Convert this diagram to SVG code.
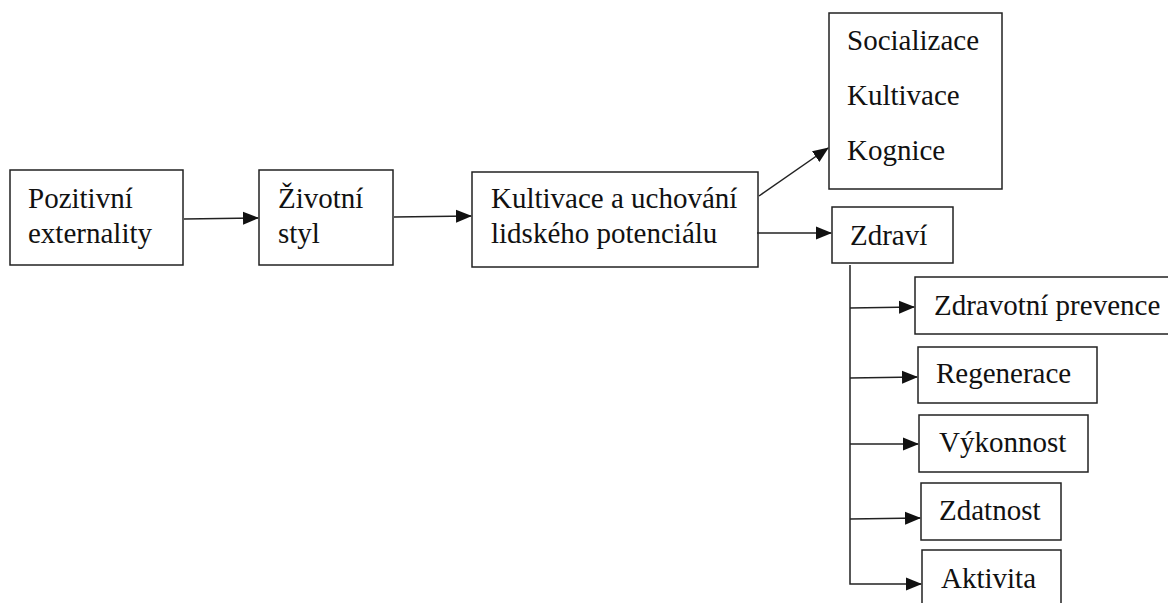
<svg xmlns="http://www.w3.org/2000/svg" width="1168" height="603" viewBox="0 0 1168 603" font-family="Liberation Serif, serif">
<style>
.box{fill:#fff;stroke:#222;stroke-width:1.5}
.t{font-size:29px;fill:#111}
.c{fill:none;stroke:#222;stroke-width:1.5}
</style>
<defs>
<marker id="ah" markerUnits="userSpaceOnUse" markerWidth="16" markerHeight="14" refX="15" refY="7" orient="auto">
<path d="M0,0.5 L16,7 L0,13.5 Z" fill="#111"/>
</marker>
</defs>
<rect width="1168" height="603" fill="#fff"/>
<g id="n-pozitivni">
<rect class="box" x="10" y="170" width="173" height="95"/>
<text class="t" x="28" y="208">Pozitivní</text>
<text class="t" x="28" y="243">externality</text>
</g>
<g id="n-zivotni">
<rect class="box" x="259" y="170" width="134" height="95"/>
<text class="t" x="278" y="208">Životní</text>
<text class="t" x="278" y="243">styl</text>
</g>
<g id="n-kultivace">
<rect class="box" x="472" y="172" width="286" height="95"/>
<text class="t" x="491" y="208">Kultivace a uchování</text>
<text class="t" x="491" y="243">lidského potenciálu</text>
</g>
<g id="n-socializace">
<rect class="box" x="829" y="13" width="173" height="176"/>
<text class="t" x="847" y="50">Socializace</text>
<text class="t" x="847" y="105">Kultivace</text>
<text class="t" x="847" y="160">Kognice</text>
</g>
<g id="n-zdravi">
<rect class="box" x="832" y="207" width="121" height="56"/>
<text class="t" x="850" y="245">Zdraví</text>
</g>
<g id="n-prevence">
<rect class="box" x="915" y="277" width="260" height="57"/>
<text class="t" x="934" y="315">Zdravotní prevence</text>
</g>
<g id="n-regenerace">
<rect class="box" x="918" y="347" width="179" height="56"/>
<text class="t" x="936" y="383">Regenerace</text>
</g>
<g id="n-vykonnost">
<rect class="box" x="919" y="415" width="169" height="57"/>
<text class="t" x="939" y="452">Výkonnost</text>
</g>
<g id="n-zdatnost">
<rect class="box" x="921" y="483" width="140" height="57"/>
<text class="t" x="939" y="520">Zdatnost</text>
</g>
<g id="n-aktivita">
<rect class="box" x="922" y="550" width="139" height="70"/>
<text class="t" x="941" y="588">Aktivita</text>
</g>
<g id="connectors">
<line class="c" x1="184" y1="219" x2="258" y2="218" marker-end="url(#ah)"/>
<line class="c" x1="394" y1="217" x2="471" y2="216" marker-end="url(#ah)"/>
<line class="c" x1="759" y1="196" x2="828" y2="148" marker-end="url(#ah)"/>
<line class="c" x1="757" y1="233" x2="831" y2="233" marker-end="url(#ah)"/>
<polyline class="c" points="850,265 850,584 921,584" marker-end="url(#ah)"/>
<line class="c" x1="850" y1="308" x2="914" y2="307" marker-end="url(#ah)"/>
<line class="c" x1="850" y1="378" x2="917" y2="377" marker-end="url(#ah)"/>
<line class="c" x1="850" y1="444" x2="918" y2="444" marker-end="url(#ah)"/>
<line class="c" x1="850" y1="519" x2="920" y2="518" marker-end="url(#ah)"/>
</g>
</svg>
